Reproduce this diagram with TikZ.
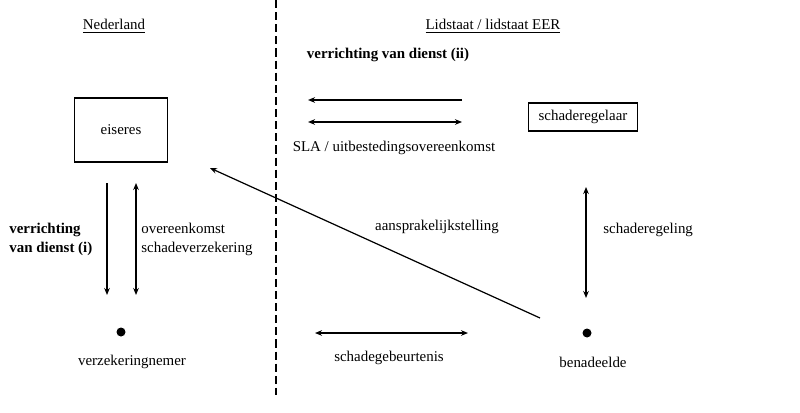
\documentclass[tikz,border=0pt]{standalone}
\usepackage{fontspec}
\setmainfont{Liberation Serif}
\usetikzlibrary{positioning,arrows.meta}

\begin{document}
\begin{tikzpicture}[
      x=0.02cm, y=-0.02cm,
      every node/.style={
        font=\fontsize{8.5}{10.8}\selectfont,
        inner sep=0pt
      },
      box/.style={draw, line width=0.9pt},
      dot/.style={circle, fill, minimum size=0.18cm},
      link/.style={line width=0.7pt},
      >={Stealth[length=4pt,width=3.2pt]} % arrow tip
    ]
    \useasboundingbox (0,0) rectangle (800,412);

    % Border
    \coordinate (b1) at (276,0);
    \coordinate (b2) at (276,395);
    \draw[line width=1.1pt, dash pattern=on 4.6pt off 2.3pt] (b1) -- (b2);

    % Headings
    \node (nl) at (114,26) {\underline{Nederland}};
    \node (ls) at (493,26) {\underline{Lidstaat / lidstaat EER}};
    \node (vd2) at (388,55) {\textbf{verrichting van dienst (ii)}};

    % Parties
    \node (eis) [box, minimum width=1.86cm, minimum height=1.28cm] at (121,130) {eiseres};
    \node (sch) [box, minimum width=2.18cm, minimum height=0.56cm] at (583,117) {schaderegelaar};
    \node (vzn) [dot] at (121,332) {};
    \node (ben) [dot] at (587,333) {};
    \node (vznl) at (132,362) {verzekeringnemer};
    \node (benl) at (593,362) {benadeelde};

    % Arrow ends
    \coordinate (s1) at (462,100);
    \coordinate (e1) at (308,100);
    \coordinate (s2) at (308,122);
    \coordinate (e2) at (462,122);
    \coordinate (s3) at (107,183);
    \coordinate (e3) at (107,295);
    \coordinate (s4) at (136,183);
    \coordinate (e4) at (136,295);
    \coordinate (s5) at (586,187);
    \coordinate (e5) at (586,298);
    \coordinate (s6) at (315,333);
    \coordinate (e6) at (468,333);
    \coordinate (s7) at (540,318);
    \coordinate (e7) at (210,168);

    % Arrows
    \draw[link, ->] (s1) -- (e1);
    \draw[link, <->] (s2) -- (e2);
    \draw[link, ->] (s3) -- (e3);
    \draw[link, <->] (s4) -- (e4);
    \draw[link, <->] (s5) -- (e5);
    \draw[link, <->] (s6) -- (e6);
    \draw[link, ->] (s7) -- (e7);

    % Labels
    \node (sla) at (394,148) {SLA / uitbestedingsovereenkomst};
    \node (vd1) [anchor=west, align=left] at (9,239) {\textbf{verrichting}\\\textbf{van dienst (i)}};
    \node (ovk) [anchor=west, align=left] at (141,239) {overeenkomst\\schadeverzekering};
    \node (srg) [anchor=west] at (603,230) {schaderegeling};
    \node (asp) at (437,227) {aansprakelijkstelling};
    \node (sgb) at (389,358) {schadegebeurtenis};
  \end{tikzpicture}
\end{document}
